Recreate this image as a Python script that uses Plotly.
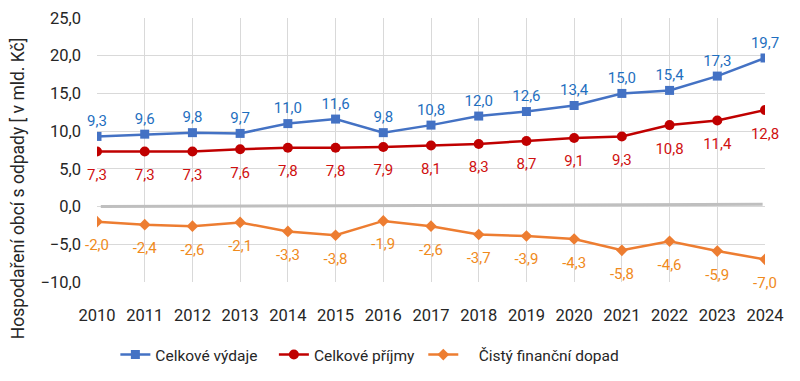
import plotly.graph_objects as go

years = list(range(2010, 2025))
vydaje = [9.3, 9.6, 9.8, 9.7, 11.0, 11.6, 9.8, 10.8, 12.0, 12.6, 13.4, 15.0, 15.4, 17.3, 19.7]
prijmy = [7.3, 7.3, 7.3, 7.6, 7.8, 7.8, 7.9, 8.1, 8.3, 8.7, 9.1, 9.3, 10.8, 11.4, 12.8]
dopad = [-2.0, -2.4, -2.6, -2.1, -3.3, -3.8, -1.9, -2.6, -3.7, -3.9, -4.3, -5.8, -4.6, -5.9, -7.0]
baseline_x = [2010.08, 2023.95]
baseline_y = [0.0, 0.3]
y_title = "Hospodaření obcí s odpady [ v mld. Kč]"
NB = "\u00a0"

def fmt(v):
    return f"{v:.1f}".replace(".", ",")

FONT = "Roboto"
fig = go.Figure()

fig.add_trace(go.Scatter(x=baseline_x, y=baseline_y, mode="lines",
                         line=dict(color="#bfbfbf", width=3), showlegend=False,
                         hoverinfo="skip"))

series = [
    ("Celkové výdaje" + NB * 3, vydaje, "#4472C4", "#1F6FC0", "square", 9, "top center", 9),
    ("Celkové příjmy" + NB, prijmy, "#C00000", "#D01010", "circle", 10, "bottom center", 26),
    (NB * 4 + "Čistý finanční dopad", dopad, "#ED7D31", "#F08A1C", "diamond", 9, "bottom center", 26),
]

for name, vals, col, tcol, sym, msize, tpos, lsize in series:
    fig.add_trace(go.Scatter(
        x=years, y=vals, name=name, mode="lines+markers",
        line=dict(color=col, width=2.5),
        marker=dict(symbol=sym, size=msize, color=col)))
    fig.add_trace(go.Scatter(
        x=years, y=vals, mode="markers+text", showlegend=False, hoverinfo="skip",
        marker=dict(size=lsize, color="rgba(0,0,0,0)"),
        text=[fmt(v) for v in vals], textposition=tpos, cliponaxis=False,
        textfont=dict(color=tcol, size=15, family=FONT)))

fig.add_annotation(text=y_title, xref="paper", yref="paper", x=-0.118, y=0.356,
                   xanchor="center", yanchor="middle", textangle=-90, showarrow=False,
                   font=dict(size=17.5, family=FONT, color="#262626"))

fig.update_layout(
    width=800, height=381,
    margin=dict(l=89, r=43, t=10, b=107),
    plot_bgcolor="white", paper_bgcolor="white",
    separators=", ",
    font=dict(family=FONT, size=16, color="#262626"),
    showlegend=True,
    legend=dict(orientation="h", x=0.0275, xanchor="left", y=-0.2765, yanchor="middle",
                font=dict(size=15.5, color="#262626")),
    xaxis=dict(range=[2010, 2024], tickmode="array", tickvals=years,
               ticktext=[str(y) for y in years], automargin=False,
               showgrid=True, gridcolor="#d9d9d9", gridwidth=1,
               zeroline=False, showline=False, ticks="", ticklabelstandoff=21,
               tickfont=dict(size=16.5)),
    yaxis=dict(range=[-10, 25], tickvals=[-10, -5, 0, 5, 10, 15, 20, 25],
               tickformat=".1f", showgrid=True, gridcolor="#d9d9d9", gridwidth=1,
               zeroline=False, showline=False, ticks="", ticklabelstandoff=15,
               tickfont=dict(size=16.5), automargin=False),
)

fig.write_html("out.html")
